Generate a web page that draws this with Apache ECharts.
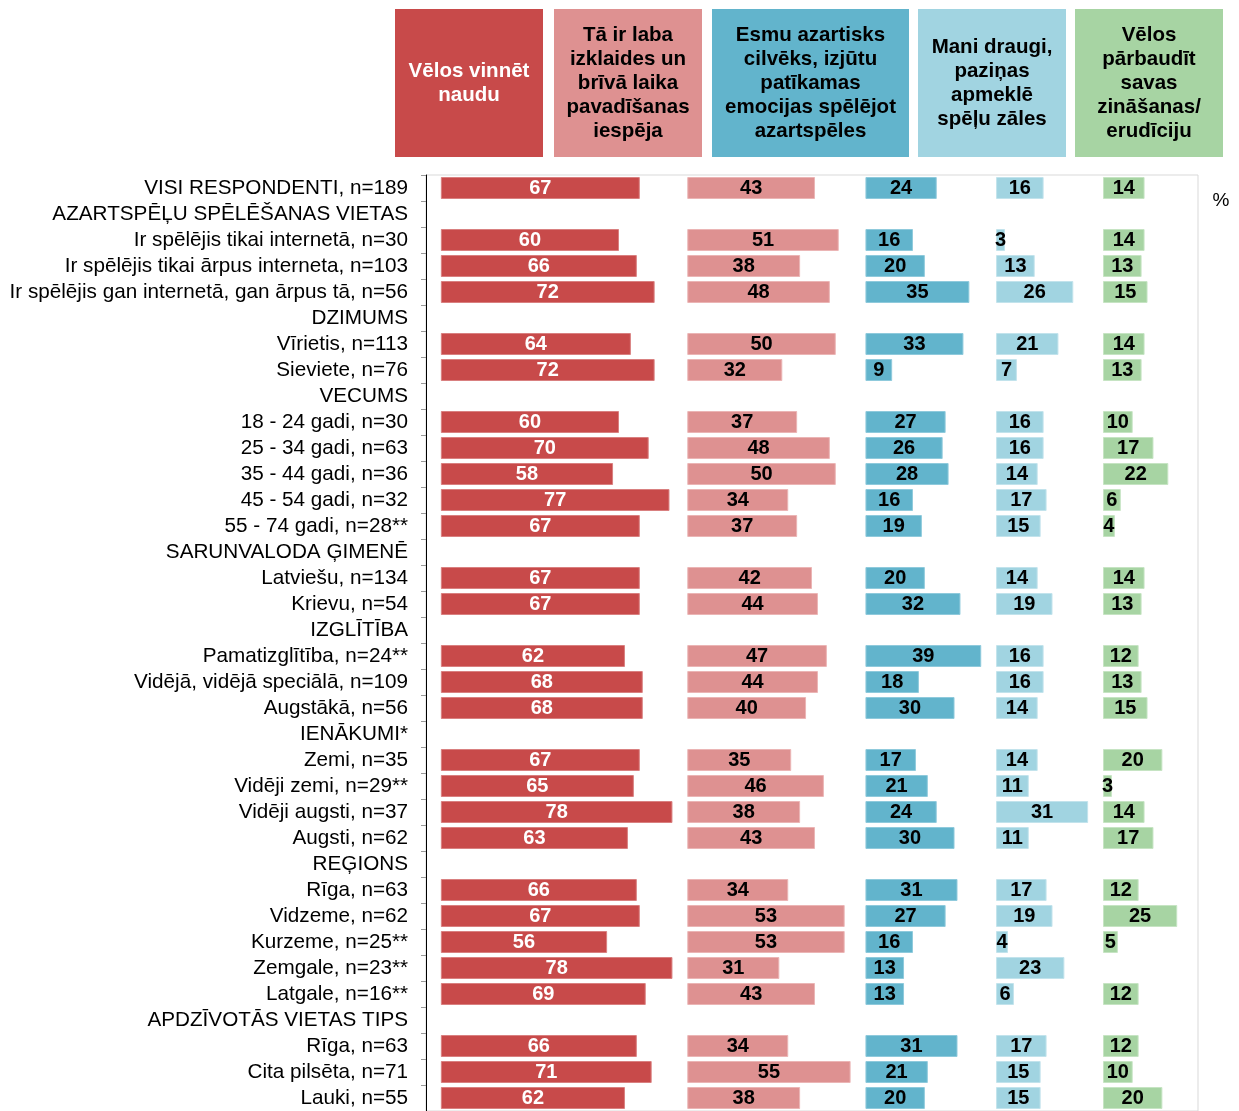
<!DOCTYPE html>
<html><head><meta charset="utf-8">
<script src="https://cdn.jsdelivr.net/npm/echarts@6/dist/echarts.min.js"></script>
<style>html,body{margin:0;padding:0;background:#fff}#c{width:1239px;height:1111px}</style>
</head><body><div id="c"></div>
<script>
var categories = [
 'VISI RESPONDENTI, n=189','AZARTSPĒĻU SPĒLĒŠANAS VIETAS','Ir spēlējis tikai internetā, n=30','Ir spēlējis tikai ārpus interneta, n=103','Ir spēlējis gan internetā, gan ārpus tā, n=56',
 'DZIMUMS','Vīrietis, n=113','Sieviete, n=76',
 'VECUMS','18 - 24 gadi, n=30','25 - 34 gadi, n=63','35 - 44 gadi, n=36','45 - 54 gadi, n=32','55 - 74 gadi, n=28**',
 'SARUNVALODA ĢIMENĒ','Latviešu, n=134','Krievu, n=54',
 'IZGLĪTĪBA','Pamatizglītība, n=24**','Vidējā, vidējā speciālā, n=109','Augstākā, n=56',
 'IENĀKUMI*','Zemi, n=35','Vidēji zemi, n=29**','Vidēji augsti, n=37','Augsti, n=62',
 'REĢIONS','Rīga, n=63','Vidzeme, n=62','Kurzeme, n=25**','Zemgale, n=23**','Latgale, n=16**',
 'APDZĪVOTĀS VIETAS TIPS','Rīga, n=63','Cita pilsēta, n=71','Lauki, n=55'
];
var seriesNames = ['Vēlos vinnēt\nnaudu','Tā ir laba\nizklaides un\nbrīvā laika\npavadīšanas\niespēja','Esmu azartisks\ncilvēks, izjūtu\npatīkamas\nemocijas spēlējot\nazartspēles','Mani draugi,\npaziņas\napmeklē\nspēļu zāles','Vēlos\npārbaudīt\nsavas\nzināšanas/\nerudīciju'];
var vinnet   = [67,null,60,66,72,null,64,72,null,60,70,58,77,67,null,67,67,null,62,68,68,null,67,65,78,63,null,66,67,56,78,69,null,66,71,62];
var izklaide = [43,null,51,38,48,null,50,32,null,37,48,50,34,37,null,42,44,null,47,44,40,null,35,46,38,43,null,34,53,53,31,43,null,34,55,38];
var azarts   = [24,null,16,20,35,null,33,9,null,27,26,28,16,19,null,20,32,null,39,18,30,null,17,21,24,30,null,31,27,16,13,13,null,31,21,20];
var draugi   = [16,null,3,13,26,null,21,7,null,16,16,14,17,15,null,14,19,null,16,16,14,null,14,11,31,11,null,17,19,4,23,6,null,17,15,15];
var zinasanas= [14,null,14,13,15,null,14,13,null,10,17,22,6,4,null,14,13,null,12,13,15,null,20,3,14,17,null,12,25,5,null,12,null,12,10,20];

// layout: where each column group starts on the value axis
var colStart = [5, 88, 148, 192, 228];
var axisMax = 260;
var colors = ['#C84A4A','#DE9191','#62B4CC','#A1D4E1','#A7D4A3'];
var borders = ['#D98080','#EBB5B5','#8FCADC','#C2E3EC','#C6E4C3'];
var labelColors = ['#fff','#000','#000','#000','#000'];
var groups = [vinnet, izklaide, azarts, draugi, zinasanas];

var series = [];
groups.forEach(function(vals, g){
  var spacer = vals.map(function(v, i){
    if (vals[i] === null && groups[0][i] === null) return null;
    if (g === 0) return colStart[0];
    var pv = groups[g-1][i] || 0;
    return colStart[g] - colStart[g-1] - pv;
  });
  series.push({
    type:'bar', stack:'s', data: spacer, silent:true, barWidth:22,
    itemStyle:{color:'rgba(0,0,0,0)'}, label:{show:false}
  });
  series.push({
    name: seriesNames[g], type:'bar', stack:'s', data: vals, barWidth:22,
    itemStyle:{color: colors[g], borderColor: borders[g], borderWidth:1},
    label:{show:true, position:'inside', color: labelColors[g], fontWeight:'bold',
      fontSize:20, fontFamily:'"Liberation Sans",Arial,sans-serif'}
  });
});

var boxes = [[395,543],[554,702],[712,909],[918,1066],[1075,1223]];
var graphic = [];
boxes.forEach(function(b, i){
  graphic.push({type:'rect', shape:{x:b[0], y:9, width:b[1]-b[0], height:148}, style:{fill:colors[i]}, silent:true});
  graphic.push({type:'text', x:(b[0]+b[1])/2, y:83, style:{text:seriesNames[i], align:'center', verticalAlign:'middle',
    fill: i===0?'#fff':'#000', font:'bold 20.5px "Liberation Sans", Arial, sans-serif', lineHeight:24}, silent:true});
});
graphic.push({type:'text', x:1221, y:201, style:{text:'%', align:'center', verticalAlign:'middle', fill:'#000', font:'19px "Liberation Sans", Arial, sans-serif'}});

var chart = echarts.init(document.getElementById('c'));
chart.setOption({
  animation:false,
  backgroundColor:'#fff',
  grid:{left:426, right:41, top:175, height:938, show:true, borderColor:'#d9d9d9', borderWidth:1, containLabel:false},
  xAxis:{type:'value', min:0, max:axisMax, show:false, splitLine:{show:false}},
  yAxis:{type:'category', data:categories, inverse:true,
    axisLine:{show:true, lineStyle:{color:'#000', width:1}},
    axisTick:{show:true, length:5, lineStyle:{color:'#999'}},
    axisLabel:{color:'#000', fontSize:20.7, margin:18, fontFamily:'"Liberation Sans", Arial, sans-serif', interval:0}
  },
  graphic: graphic,
  series: series
});
</script></body></html>
